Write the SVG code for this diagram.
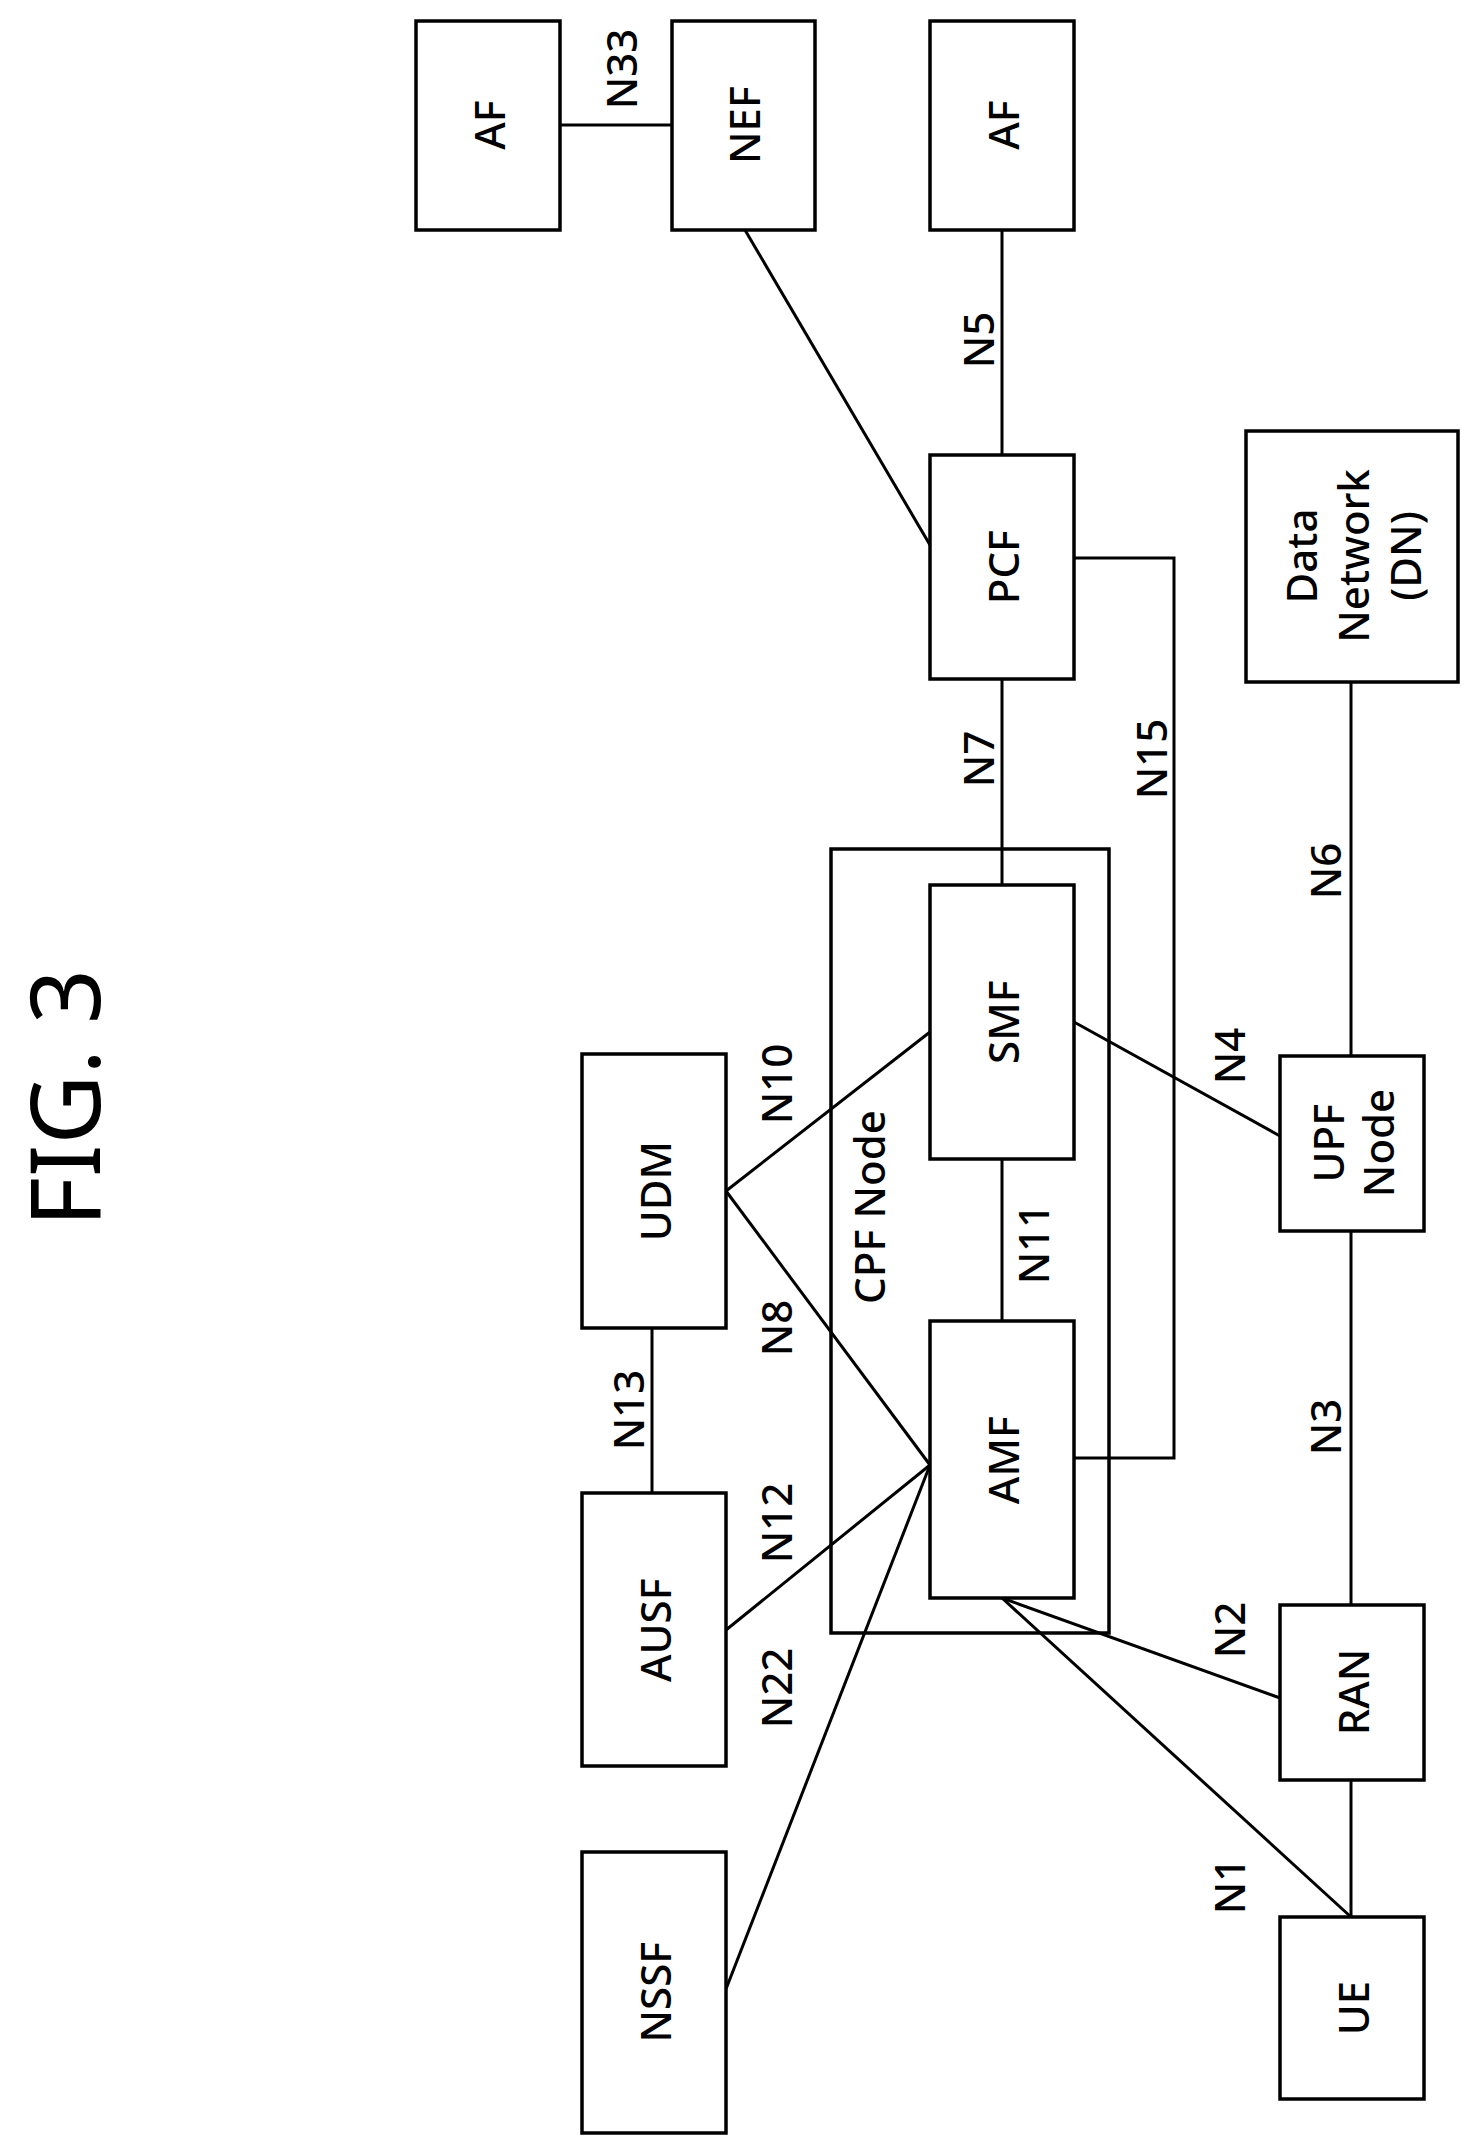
<svg xmlns="http://www.w3.org/2000/svg" width="1476" height="2143" viewBox="0 0 1476 2143">
<style>
rect{fill:#fff;stroke:#000;stroke-width:3.5}
line,polyline{stroke:#000;stroke-width:3}
polyline{fill:none}
text{font-family:"Noto Sans","Open Sans","DejaVu Sans",sans-serif;font-size:42px;font-weight:500;text-anchor:middle;dominant-baseline:central;fill:#000}
.e{font-size:42px}
</style>
<rect width="1476" height="2143" fill="#fff" style="stroke:none"/>
<text transform="translate(62,1098) rotate(-90)" style="font-size:96px;font-weight:400">FIG. 3</text>
<g id="cpf"><rect x="831" y="849" width="278" height="784" style="fill:none"/><text transform="translate(868,1207) rotate(-90)">CPF Node</text></g>
<g id="connectors">
<line x1="560" y1="125" x2="672" y2="125"/>
<line x1="745" y1="230" x2="930" y2="545"/>
<line x1="1002" y1="230" x2="1002" y2="455"/>
<line x1="1002" y1="679" x2="1002" y2="885"/>
<polyline points="1074,558 1174,558 1174,1458 1074,1458"/>
<line x1="1002" y1="1159" x2="1002" y2="1321"/>
<line x1="652" y1="1328" x2="652" y2="1493"/>
<line x1="726" y1="1191" x2="930" y2="1032"/>
<line x1="726" y1="1191" x2="930" y2="1465"/>
<line x1="726" y1="1630" x2="930" y2="1465"/>
<line x1="726" y1="1989" x2="930" y2="1465"/>
<line x1="1002" y1="1598" x2="1280" y2="1698"/>
<line x1="1002" y1="1598" x2="1351" y2="1917"/>
<line x1="1351" y1="1780" x2="1351" y2="1917"/>
<line x1="1351" y1="1231" x2="1351" y2="1605"/>
<line x1="1074" y1="1022" x2="1280" y2="1136"/>
<line x1="1351" y1="682" x2="1351" y2="1056"/>
<g class="labels">
<text class="e" transform="translate(620,69) rotate(-90)">N33</text>
<text class="e" transform="translate(977,340) rotate(-90)">N5</text>
<text class="e" transform="translate(977,759) rotate(-90)">N7</text>
<text class="e" transform="translate(1150,759) rotate(-90)">N15</text>
<text class="e" transform="translate(1032,1244) rotate(-90)">N11</text>
<text class="e" transform="translate(627,1410) rotate(-90)">N13</text>
<text class="e" transform="translate(775,1084) rotate(-90)">N10</text>
<text class="e" transform="translate(775,1328) rotate(-90)">N8</text>
<text class="e" transform="translate(775,1523) rotate(-90)">N12</text>
<text class="e" transform="translate(775,1688) rotate(-90)">N22</text>
<text class="e" transform="translate(1228,1630) rotate(-90)">N2</text>
<text class="e" transform="translate(1228,1886) rotate(-90)">N1</text>
<text class="e" transform="translate(1324,1427) rotate(-90)">N3</text>
<text class="e" transform="translate(1228,1056) rotate(-90)">N4</text>
<text class="e" transform="translate(1324,871) rotate(-90)">N6</text>
</g>
</g>
<g id="af1"><rect x="416" y="21" width="144" height="209"/><text transform="translate(488,125) rotate(-90)">AF</text></g>
<g id="nef"><rect x="672" y="21" width="143" height="209"/><text transform="translate(743,125) rotate(-90)">NEF</text></g>
<g id="af2"><rect x="930" y="21" width="144" height="209"/><text transform="translate(1002,125) rotate(-90)">AF</text></g>
<g id="pcf"><rect x="930" y="455" width="144" height="224"/><text transform="translate(1002,567) rotate(-90)">PCF</text></g>
<g id="dn"><rect x="1246" y="431" width="212" height="251"/><text transform="translate(1300,556) rotate(-90)">Data</text><text transform="translate(1352,556) rotate(-90)">Network</text><text transform="translate(1404,556) rotate(-90)">(DN)</text></g>
<g id="smf"><rect x="930" y="885" width="144" height="274"/><text transform="translate(1002,1022) rotate(-90)">SMF</text></g>
<g id="amf"><rect x="930" y="1321" width="144" height="277"/><text transform="translate(1002,1460) rotate(-90)">AMF</text></g>
<g id="udm"><rect x="582" y="1054" width="144" height="274"/><text transform="translate(654,1191) rotate(-90)">UDM</text></g>
<g id="ausf"><rect x="582" y="1493" width="144" height="273"/><text transform="translate(654,1630) rotate(-90)">AUSF</text></g>
<g id="nssf"><rect x="582" y="1852" width="144" height="281"/><text transform="translate(654,1992) rotate(-90)">NSSF</text></g>
<g id="upf"><rect x="1280" y="1056" width="144" height="175"/><text transform="translate(1327,1143) rotate(-90)">UPF</text><text transform="translate(1377,1143) rotate(-90)">Node</text></g>
<g id="ran"><rect x="1280" y="1605" width="144" height="175"/><text transform="translate(1352,1692) rotate(-90)">RAN</text></g>
<g id="ue"><rect x="1280" y="1917" width="144" height="182"/><text transform="translate(1352,2008) rotate(-90)">UE</text></g>
</svg>
